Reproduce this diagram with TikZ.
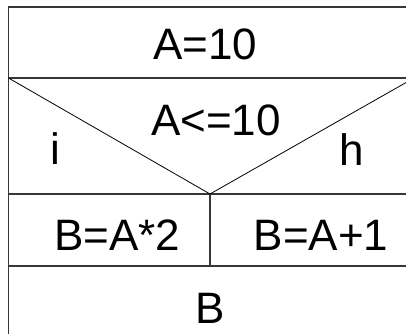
\documentclass[tikz,border=0pt]{standalone}
\usepackage{fontspec}
\setmainfont{Liberation Sans}
\usetikzlibrary{positioning}
\definecolor{rule}{RGB}{55,55,55}
\tikzset{
  frame/.style={draw=rule,line width=1.4pt},
  slant/.style={draw=black,line width=0.8pt},
  cell/.style={font=\fontsize{44}{50}\selectfont,inner sep=0pt,anchor=base},
}

\begin{document}
\begin{tikzpicture}[x=1pt,y=-1pt]
  \useasboundingbox (0,0) rectangle (406,333);
  % corners of the chart (right and bottom edge lie outside the page)
  \coordinate (nw) at (8.5,7);
  \coordinate (ne) at (414,7);
  \coordinate (sw) at (8.5,345);
  \coordinate (cl) at (8.5,78);
  \coordinate (cr) at (414,78);
  \coordinate (tip) at (210,194);
  \coordinate (bl) at (8.5,194);
  \coordinate (br) at (414,194);
  \coordinate (el) at (8.5,266);
  \coordinate (er) at (414,266);
  \coordinate (mid) at (210,266);
  \begin{scope}
    \clip (0,0) rectangle (406,333);
    \draw[frame] (ne) -- (nw) -- (sw);
    \draw[frame] (cl) -- (cr);
    \draw[frame] (bl) -- (br);
    \draw[frame] (el) -- (er);
    \draw[frame] (tip) -- (mid);
    \draw[slant] (cl) -- (tip) -- (cr);
  \end{scope}
  % texts
  \node[cell] (init) at (205,59) {A=10};
  \node[cell] (cond) at (216,135) {A<=10};
  \node[cell] (yes) at (55,164) {i};
  \node[cell] (no) at (352,165) {h};
  \node[cell] (left) at (117,250) {B=A*2};
  \node[cell] (right) at (321,250) {B=A+1};
  \node[cell] (out) at (210,323) {B};
\end{tikzpicture}
\end{document}
